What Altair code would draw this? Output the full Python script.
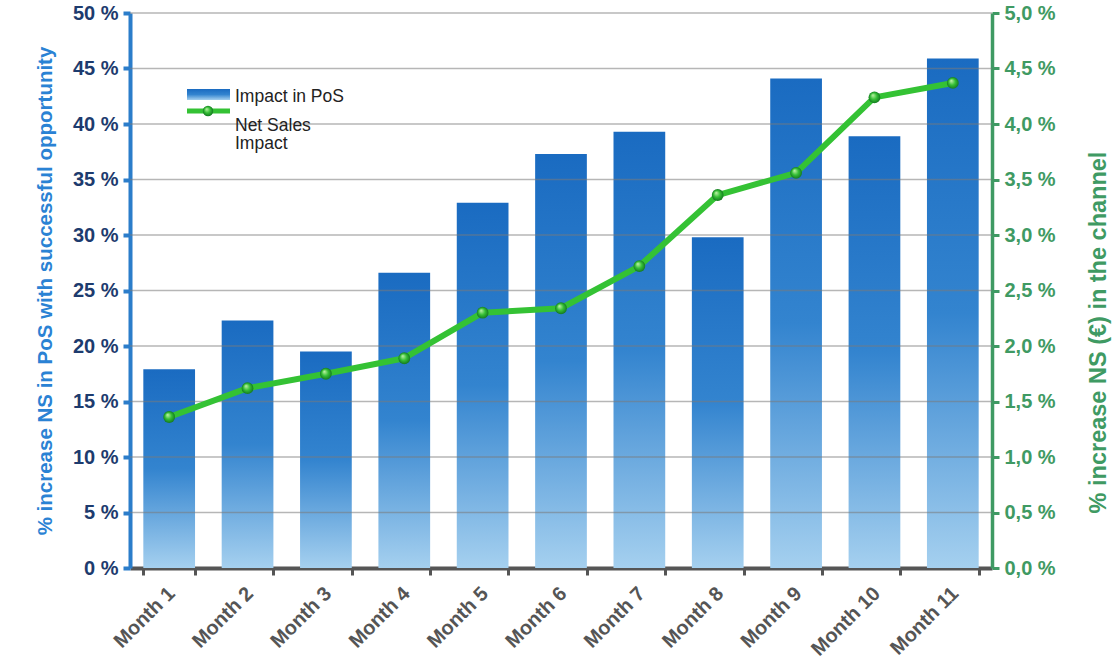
import altair as alt
import pandas as pd

months = ["Month 1", "Month 2", "Month 3", "Month 4", "Month 5", "Month 6",
          "Month 7", "Month 8", "Month 9", "Month 10", "Month 11"]
impact_pos = [17.9, 22.3, 19.5, 26.6, 32.9, 37.3, 39.3, 29.8, 44.1, 38.9, 45.9]
net_sales = [1.36, 1.62, 1.75, 1.89, 2.30, 2.34, 2.72, 3.36, 3.56, 4.24, 4.37]
left_ticks = [0, 5, 10, 15, 20, 25, 30, 35, 40, 45, 50]
right_ticks = [0, 0.5, 1.0, 1.5, 2.0, 2.5, 3.0, 3.5, 4.0, 4.5, 5.0]
grid_vals = [5, 10, 15, 20, 25, 30, 35, 40, 45, 50]
legend_labels = ["Impact in PoS", "Net Sales", "Impact"]

FONT = "Liberation Sans"
BLUE_AXIS = "#2b7dca"
BLUE_LABEL = "#1d3b6e"
GREEN_AXIS = "#3f9a63"
GREEN_LINE = "#34c234"

df = pd.DataFrame({"month": months, "pos": impact_pos, "ns": net_sales})
grid_df = pd.DataFrame({"g": grid_vals})
one = pd.DataFrame({"k": [0]})

bar_grad = alt.Gradient(
    gradient="linear",
    stops=[alt.GradientStop(color="#1a6bc1", offset=0),
           alt.GradientStop(color="#3384cf", offset=0.5),
           alt.GradientStop(color="#a5d0ef", offset=1)],
    x1=0, x2=0, y1=0, y2=1)

ball_grad = alt.RadialGradient(
    gradient="radial",
    stops=[alt.GradientStop(color="#c8f5b0", offset=0),
           alt.GradientStop(color="#35c035", offset=0.55),
           alt.GradientStop(color="#147a22", offset=1)],
    x1=0.35, y1=0.3, r1=0, x2=0.5, y2=0.5, r2=0.5)

x_axis = alt.Axis(title=None, labelAngle=-45, labelFontSize=20,
                  labelFont=FONT, labelFontWeight="bold",
                  labelColor="#555555", labelPadding=8, labelOffset=-5,
                  domainColor="#555555", domainWidth=4,
                  tickColor="#555555", tickWidth=3, tickSize=7,
                  tickBand="extent", grid=False)
x_scale = alt.Scale(paddingInner=0.34, paddingOuter=0.17)

left_axis = alt.Axis(
    title="% increase NS in PoS with successful opportunity",
    titleFont=FONT, titleFontSize=20.5, titleFontWeight="bold",
    titleColor="#2a82d4", titlePadding=17,
    values=left_ticks, labelExpr="datum.value + ' %'",
    labelFont=FONT, labelFontSize=20, labelFontWeight="bold",
    labelColor=BLUE_LABEL, labelPadding=5,
    domainColor=BLUE_AXIS, domainWidth=4,
    tickColor=BLUE_AXIS, tickWidth=4, tickSize=7, grid=False)

right_axis = alt.Axis(
    orient="right",
    title="% increase NS (€) in the channel",
    titleFont=FONT, titleFontSize=23.5, titleFontWeight="bold",
    titleColor=GREEN_AXIS, titleAngle=270, titleBaseline="top", titlePadding=31,
    titleY=319,
    values=right_ticks,
    labelExpr="replace(format(datum.value, '.1f'), '.', ',') + ' %'",
    labelFont=FONT, labelFontSize=20, labelFontWeight="bold",
    labelColor=GREEN_AXIS, labelPadding=5,
    domainColor=GREEN_AXIS, domainWidth=3.5,
    tickColor=GREEN_AXIS, tickWidth=3, tickSize=7, grid=False)

left_scale = alt.Scale(domain=[0, 50], nice=False, zero=True)
right_scale = alt.Scale(domain=[0, 5], nice=False, zero=True)

bars = alt.Chart(df).mark_bar(fill=bar_grad).encode(
    x=alt.X("month:N", sort=months, scale=x_scale, axis=x_axis),
    y=alt.Y("pos:Q", scale=left_scale, axis=left_axis))

grid = alt.Chart(grid_df).mark_rule(color="#7a7a7a", opacity=0.55, strokeWidth=1.3).encode(
    y=alt.Y("g:Q", scale=left_scale, axis=None))

line = alt.Chart(df).mark_line(
    color=GREEN_LINE, strokeWidth=6, strokeJoin="round",
    point=alt.OverlayMarkDef(filled=True, fill=ball_grad, size=140, opacity=1)
).encode(
    x=alt.X("month:N", sort=months, scale=x_scale, axis=x_axis),
    y=alt.Y("ns:Q", scale=right_scale, axis=right_axis))

# legend (drawn inside the plot area)
leg_rect = alt.Chart(one).mark_rect(fill=bar_grad).encode(
    x=alt.value(57), x2=alt.value(100), y=alt.value(76), y2=alt.value(87))
leg_line = alt.Chart(one).mark_rule(color=GREEN_LINE, strokeWidth=5).encode(
    x=alt.value(57), x2=alt.value(100), y=alt.value(98))
leg_ball = alt.Chart(one).mark_point(filled=True, fill=ball_grad, size=110, opacity=1).encode(
    x=alt.value(78), y=alt.value(98))
leg_t1 = alt.Chart(one).mark_text(align="left", baseline="alphabetic", font=FONT,
                                  fontSize=17.5, color="#222222").encode(
    x=alt.value(105), y=alt.value(89), text=alt.value(legend_labels[0]))
leg_t2 = alt.Chart(one).mark_text(align="left", baseline="alphabetic", font=FONT,
                                  fontSize=17.5, color="#222222").encode(
    x=alt.value(105), y=alt.value(118), text=alt.value(legend_labels[1]))
leg_t3 = alt.Chart(one).mark_text(align="left", baseline="alphabetic", font=FONT,
                                  fontSize=17.5, color="#222222").encode(
    x=alt.value(105), y=alt.value(136), text=alt.value(legend_labels[2]))

chart = alt.layer(
    bars, grid, line, leg_rect, leg_line, leg_ball, leg_t1, leg_t2, leg_t3
).resolve_scale(y="independent").properties(
    width=862, height=555,
    autosize=alt.AutoSizeParams(type="none"),
    padding={"left": 130, "top": 13, "right": 125, "bottom": 96},
    background="white"
).configure_view(stroke=None)

chart.save("out.html", embed_options={"renderer": "svg", "actions": False})
